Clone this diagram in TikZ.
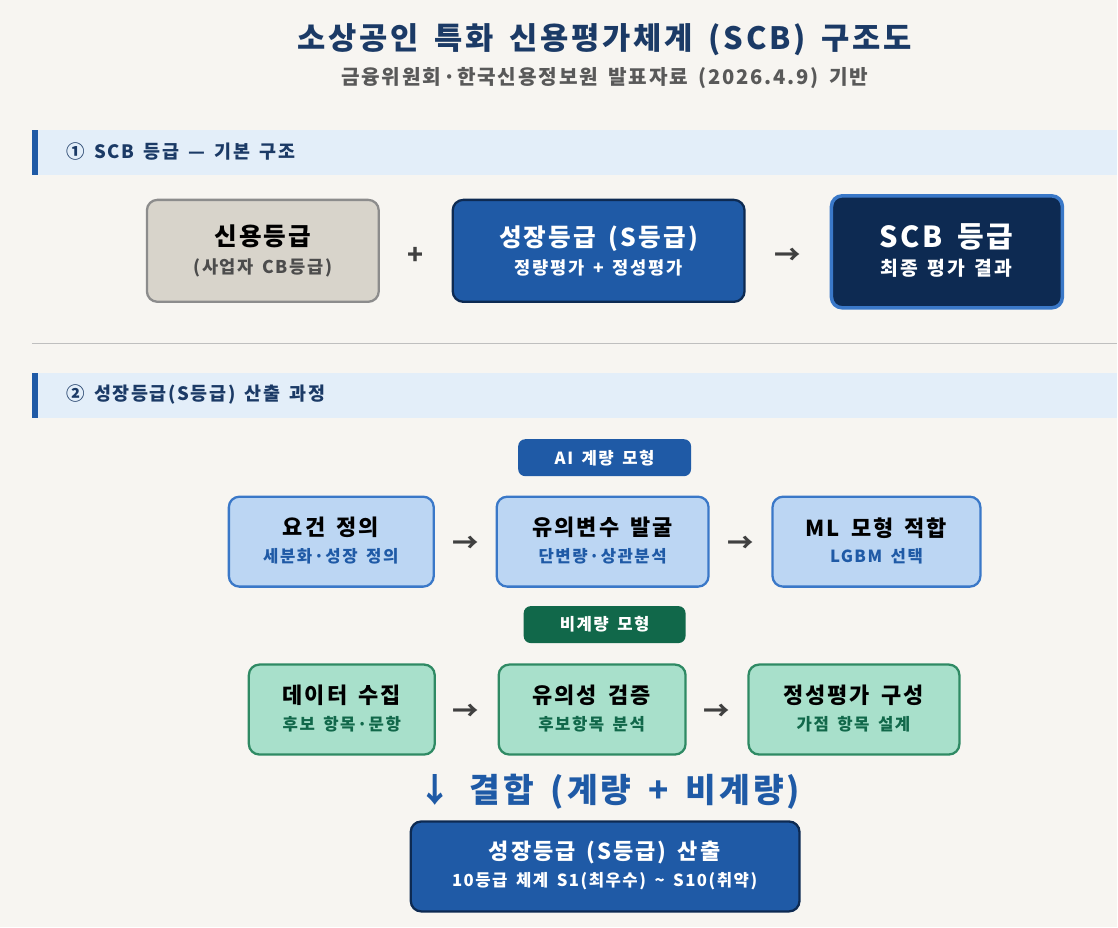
\documentclass[tikz,border=0pt]{standalone}
\usepackage{fontspec}
\setmainfont{Noto Sans CJK KR}[LetterSpace=9,WordSpace=1.6]
\usepackage{tikz}

\definecolor{bg}{HTML}{F7F5F1}
\definecolor{navy}{HTML}{1B3A66}
\definecolor{mid}{HTML}{1F5AA6}
\definecolor{deep}{HTML}{0D2A52}
\definecolor{band}{HTML}{E3EEF9}
\definecolor{lblue}{HTML}{BCD6F3}
\definecolor{lblueb}{HTML}{3A78C8}
\definecolor{lgreen}{HTML}{A8E0CB}
\definecolor{lgreenb}{HTML}{2F8A64}
\definecolor{dgreen}{HTML}{11684A}
\definecolor{beige}{HTML}{D8D4CB}

\tikzset{
  box/.style={rounded corners=6pt, line width=1.3pt, align=center, inner sep=0pt},
  tag/.style={rounded corners=4pt, text=white, font=\bfseries\fontsize{9.5}{11}\selectfont, minimum height=0.74cm, inner sep=0pt},
  arr/.style={font=\bfseries\fontsize{15}{17}\selectfont, text=black!75},
  sect/.style={anchor=west, text=navy, font=\bfseries\fontsize{10.5}{12}\selectfont}
}

\begin{document}
\begin{tikzpicture}[x=0.02cm,y=-0.02cm]
\fill[bg] (0,0) rectangle (1118,928);

\node[text=navy, font=\bfseries\fontsize{17.5}{20}\selectfont] (title) at (605,40) {소상공인 특화 신용평가체계 (SCB) 구조도};
\node[text=black!65, font=\bfseries\fontsize{11.5}{13}\selectfont] (sub) at (605,78) {금융위원회·한국신용정보원 발표자료 (2026.4.9) 기반};

% section 1
\fill[band] (32,130) rectangle (1118,175);
\fill[mid] (32,130) rectangle (38,175);
\node[sect] (s1) at (60,152) {① SCB 등급 — 기본 구조};

\draw[box, fill=beige, draw=black!45] (147,200) rectangle (379,302);
\node[align=center] (credit) at (263,251) {{\bfseries\fontsize{14}{16}\selectfont 신용등급}\\[4pt]{\bfseries\fontsize{10}{12}\selectfont\color{black!70}(사업자 CB등급)}};
\node[arr] (plus) at (416,256) {+};
\draw[box, fill=mid, draw=deep] (453,200) rectangle (745,302);
\node[align=center, text=white] (growth) at (599,251) {{\bfseries\fontsize{14}{16}\selectfont 성장등급 (S등급)}\\[4pt]{\bfseries\fontsize{10}{12}\selectfont 정량평가 + 정성평가}};
\node[arr] (to1) at (788,256) {→};
\draw[box, fill=deep, draw=lblueb, line width=2pt] (832,196) rectangle (1063,308);
\node[align=center, text=white] (scb) at (947,251) {{\bfseries\fontsize{16.5}{19}\selectfont SCB 등급}\\[4pt]{\bfseries\fontsize{11}{13}\selectfont 최종 평가 결과}};

\draw[black!25, line width=0.8pt] (32,344) -- (1118,344);

% section 2
\fill[band] (32,373) rectangle (1118,418);
\fill[mid] (32,373) rectangle (38,418);
\node[sect] (s2) at (60,395) {② 성장등급(S등급) 산출 과정};

\node[tag, fill=mid, minimum width=3.46cm] (ai) at (605,458) {AI 계량 모형};
\draw[box, fill=lblue, draw=lblueb] (229,497) rectangle (434,587);
\node[align=center] (a1) at (331,541) {{\bfseries\fontsize{12.5}{15}\selectfont 요건 정의}\\[3pt]{\bfseries\fontsize{9.5}{11}\selectfont\color{mid}세분화·성장 정의}};
\node[arr] (aa1) at (466,545) {→};
\draw[box, fill=lblue, draw=lblueb] (497,497) rectangle (709,587);
\node[align=center] (a2) at (603,541) {{\bfseries\fontsize{12.5}{15}\selectfont 유의변수 발굴}\\[3pt]{\bfseries\fontsize{9.5}{11}\selectfont\color{mid}단변량·상관분석}};
\node[arr] (aa2) at (741,545) {→};
\draw[box, fill=lblue, draw=lblueb] (773,497) rectangle (981,587);
\node[align=center] (a3) at (877,541) {{\bfseries\fontsize{12.5}{15}\selectfont ML 모형 적합}\\[3pt]{\bfseries\fontsize{9.5}{11}\selectfont\color{mid}LGBM 선택}};

\node[tag, fill=dgreen, minimum width=3.24cm] (nq) at (605,625) {비계량 모형};
\draw[box, fill=lgreen, draw=lgreenb] (249,665) rectangle (435,755);
\node[align=center] (b1) at (342,709) {{\bfseries\fontsize{12.5}{15}\selectfont 데이터 수집}\\[3pt]{\bfseries\fontsize{9.5}{11}\selectfont\color{dgreen}후보 항목·문항}};
\node[arr] (bb1) at (466,713) {→};
\draw[box, fill=lgreen, draw=lgreenb] (499,665) rectangle (686,755);
\node[align=center] (b2) at (592,709) {{\bfseries\fontsize{12.5}{15}\selectfont 유의성 검증}\\[3pt]{\bfseries\fontsize{9.5}{11}\selectfont\color{dgreen}후보항목 분석}};
\node[arr] (bb2) at (717,713) {→};
\draw[box, fill=lgreen, draw=lgreenb] (749,665) rectangle (960,755);
\node[align=center] (b3) at (854,709) {{\bfseries\fontsize{12.5}{15}\selectfont 정성평가 구성}\\[3pt]{\bfseries\fontsize{9.5}{11}\selectfont\color{dgreen}가점 항목 설계}};

\node[text=mid, font=\bfseries\fontsize{19}{22}\selectfont] (join) at (610,792) {↓ 결합 (계량 + 비계량)};

\draw[box, fill=mid, draw=deep] (411,822) rectangle (800,912);
\node[align=center, text=white] (final) at (605,866) {{\bfseries\fontsize{12.5}{15}\selectfont 성장등급 (S등급) 산출}\\[3pt]{\bfseries\fontsize{9.5}{11}\selectfont 10등급 체계 S1(최우수) \textasciitilde{} S10(취약)}};
\end{tikzpicture}
\end{document}
